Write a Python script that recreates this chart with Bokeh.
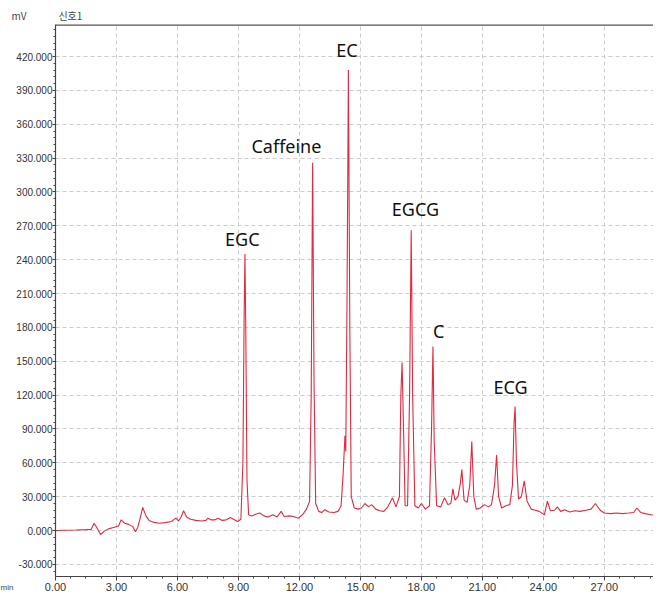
from bokeh.plotting import figure
from bokeh.models import (SingleIntervalTicker, PrintfTickFormatter, Label, Span,
                          ColumnDataSource, Range1d)
from bokeh.core.properties import value
from bokeh.embed import file_html
from bokeh.resources import INLINE

# Chromatogram trace (time in min, signal in mV)
time_min = [0.00, 0.5, 1.0, 1.5, 1.75, 1.9, 2.05, 2.22, 2.4, 2.6, 2.9, 3.1, 3.23, 3.4, 3.6, 3.8,
            3.93, 4.05, 4.18, 4.29, 4.45, 4.6, 4.8, 5.1, 5.4, 5.7, 5.92, 6.05, 6.18, 6.3, 6.45,
            6.65, 6.9, 7.2, 7.4, 7.5, 7.65, 7.85, 8.0, 8.2, 8.4, 8.6, 8.8, 8.95, 9.12, 9.22,
            9.28, 9.32, 9.36, 9.42, 9.5, 9.65, 9.85, 10.05, 10.25, 10.45, 10.7, 10.9, 11.1,
            11.25, 11.5, 11.7, 11.95, 12.15, 12.35, 12.5, 12.58, 12.65, 12.72, 12.8, 12.95,
            13.1, 13.25, 13.45, 13.7, 13.9, 14.05, 14.15, 14.24, 14.28, 14.34, 14.41, 14.48,
            14.55, 14.7, 14.9, 15.05, 15.22, 15.4, 15.55, 15.75, 15.95, 16.15, 16.35, 16.58,
            16.75, 16.92, 16.99, 17.05, 17.11, 17.2, 17.32, 17.42, 17.5, 17.57, 17.68, 17.85,
            18.0, 18.2, 18.4, 18.5, 18.57, 18.63, 18.75, 18.95, 19.14, 19.3, 19.45, 19.55,
            19.65, 19.8, 19.92, 19.99, 20.1, 20.25, 20.38, 20.48, 20.58, 20.7, 20.9, 21.1,
            21.3, 21.45, 21.6, 21.7, 21.8, 21.95, 22.15, 22.35, 22.48, 22.56, 22.61, 22.68,
            22.78, 22.92, 23.06, 23.2, 23.4, 23.6, 23.8, 24.05, 24.2, 24.35, 24.55, 24.69,
            24.85, 25.05, 25.3, 25.55, 25.8, 26.1, 26.35, 26.56, 26.8, 27.0, 27.3, 27.6, 27.9,
            28.2, 28.45, 28.6, 28.8, 29.0, 29.3, 29.6, 29.8]
signal_mv = [0.0, 0.3, 0.5, 0.8, 1.0, 6.5, 2.0, -3.5, -0.5, 1.5, 3.0, 4.0, 9.5, 6.5, 5.5, 3.5,
             -1.0, 3.0, 12.0, 20.5, 13.0, 9.0, 7.5, 6.5, 7.0, 8.0, 11.0, 8.5, 12.0, 17.5, 12.0,
             10.0, 9.0, 8.5, 9.0, 11.0, 9.5, 9.5, 11.0, 9.0, 9.5, 11.5, 9.5, 8.0, 10.0, 60.0,
             190.0, 245.0, 180.0, 45.0, 14.0, 13.0, 14.5, 15.5, 13.0, 12.0, 14.0, 12.0, 17.0,
             12.5, 13.0, 12.5, 11.0, 14.0, 19.0, 26.0, 120.0, 326.0, 130.0, 24.0, 17.0,
             16.0, 18.5, 16.5, 16.0, 17.0, 22.0, 50.0, 84.0, 70.0, 200.0, 408.0, 180.0,
             30.0, 20.0, 19.0, 20.0, 24.0, 21.0, 23.0, 19.0, 17.5, 17.0, 21.0, 29.0,
             21.0, 30.0, 120.0, 149.0, 100.0, 22.0, 22.0, 120.0, 266.0, 120.0, 22.0, 20.0,
             24.0, 19.0, 22.0, 90.0, 163.0, 80.0, 22.0, 21.0, 29.0, 23.0, 24.0, 37.0,
             27.0, 30.0, 42.0, 54.0, 27.0, 25.0, 40.0, 79.0, 30.0, 19.0, 20.0, 23.0,
             21.0, 23.0, 40.0, 67.0, 30.0, 20.0, 22.0, 23.0, 40.0, 95.0, 110.0, 60.0,
             28.0, 30.0, 44.0, 26.0, 19.0, 18.0, 17.0, 14.0, 26.0, 17.5, 18.0, 21.0,
             17.0, 18.5, 16.5, 17.5, 17.0, 18.0, 19.0, 24.0, 18.0, 15.5, 15.0, 15.5, 15.0,
             15.5, 16.0, 20.0, 16.0, 15.0, 14.0, 13.5, 14.0]

# Peak annotations
peak_names = ["EGC", "Caffeine", "EC", "EGCG", "C", "ECG"]
peak_label_t = [9.19, 11.36, 14.34, 17.71, 18.85, 22.39]
peak_label_v = [258.7, 341.0, 426.2, 285.3, 177.2, 127.1]

x_major = 3
y_major = 30

p = figure(width=653, height=594, output_backend="svg", toolbar_location=None,
           x_range=Range1d(0, 29.42), y_range=Range1d(-40.7, 448.4),
           min_border_left=52, min_border_right=0, min_border_top=24,
           min_border_bottom=18, background_fill_color="white",
           border_fill_color="white")
p.outline_line_color = None

p.title.text = "mV\u2003\u2003\u2003\u2009신호1"
p.title.text_font = "Noto Sans CJK KR"
p.title.text_font_size = "10px"
p.title.text_font_style = "normal"
p.title.text_color = "#444444"
p.title.align = "left"
p.title.offset = -44
p.title.standoff = 4

p.line(time_min, signal_mv, line_color="#e5283d", line_width=1.1)

src = ColumnDataSource(dict(x=peak_label_t, y=peak_label_v, t=peak_names))
p.text(x="x", y="y", text="t", source=src, text_font=value("Noto Sans"),
       text_font_size="18px", text_align="center", text_baseline="middle",
       text_color="#111111")

# axes
p.xaxis.ticker = SingleIntervalTicker(interval=x_major, num_minor_ticks=4)
p.yaxis.ticker = SingleIntervalTicker(interval=y_major, num_minor_ticks=5)
p.xaxis.formatter = PrintfTickFormatter(format="%.2f")
p.yaxis.formatter = PrintfTickFormatter(format="%.3f")
for ax in (p.xaxis, p.yaxis):
    ax.axis_line_color = "#444444"
    ax.axis_line_width = 1.2
    ax.major_tick_line_color = "#444444"
    ax.minor_tick_line_color = "#444444"
    ax.major_tick_in = 0
    ax.minor_tick_in = 0
    ax.minor_tick_out = 2
    ax.major_label_text_font = "Liberation Sans"
    ax.major_label_text_color = "#333333"
p.xaxis.major_tick_out = 4
p.yaxis.major_tick_out = 3
p.xaxis.major_label_text_font_size = "11px"
p.yaxis.major_label_text_font_size = "10px"
p.xaxis.major_label_standoff = 2
p.yaxis.major_label_standoff = 0

p.xgrid.grid_line_color = "#cccccc"
p.ygrid.grid_line_color = "#cccccc"
p.xgrid.grid_line_dash = "4 3"
p.ygrid.grid_line_dash = "4 3"

p.add_layout(Span(location=448.4, dimension="width", line_color="#555555", line_width=2.5))

p.add_layout(Label(x=0, y=-11, x_units="screen", y_units="screen", text="min",
                   text_font="Liberation Sans", text_font_size="8px",
                   text_baseline="middle", text_color="#444444"), "left")

open("out.html", "w").write(file_html(p, INLINE))
